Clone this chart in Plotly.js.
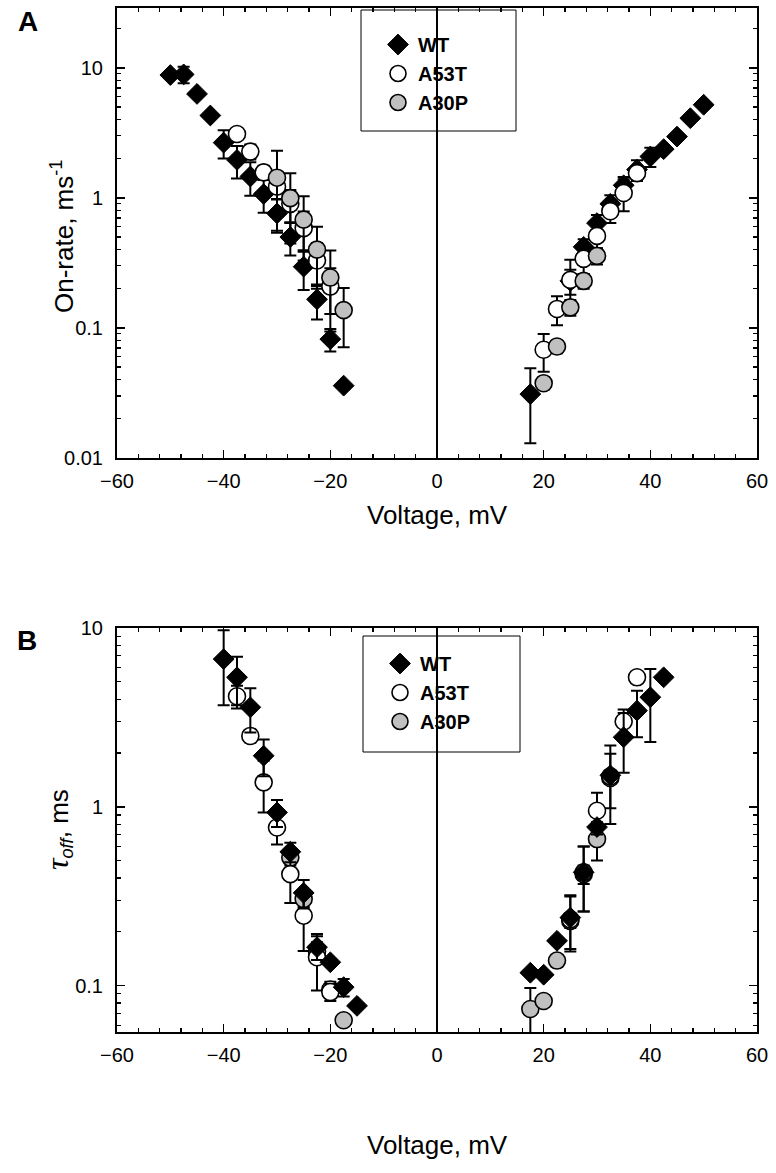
<!DOCTYPE html>
<html>
<head>
<meta charset="utf-8">
<script src="https://cdn.plot.ly/plotly-3.0.1.min.js"></script>
<style>html,body{margin:0;padding:0;background:#fff;}#chart{width:776px;height:1173px;}</style>
</head>
<body>
<div id="chart"></div>
<script>
// ---------- Panel A : On-rate (ms^-1) vs voltage (mV) ----------
const wtA_V   = [-50,-47.5,-45,-42.5,-40,-37.5,-35,-32.5,-30,-27.5,-25,-22.5,-20,-17.5, 17.5,25,27.5,30,32.5,35,37.5,40,42.5,45,47.5,50];
const wtA_Y   = [8.8,8.9,6.3,4.3,2.66,1.96,1.46,1.07,0.76,0.50,0.296,0.166,0.082,0.036, 0.031,0.23,0.42,0.64,0.90,1.25,1.65,2.08,2.37,2.96,4.1,5.2];
const wtA_E   = [0,1.3,0,0,0.65,0.55,0.42,0.30,0.22,0.14,0.10,0.05,0.016,0, 0.018,0.05,0.06,0.10,0.15,0.20,0.30,0.35,0,0,0,0];
const a53tA_V = [-37.5,-35,-32.5,-30,-27.5,-25,-22.5,-20, 20,22.5,25,27.5,30,32.5,35,37.5];
const a53tA_Y = [3.1,2.27,1.57,1.22,0.90,0.585,0.33,0.208, 0.068,0.14,0.234,0.34,0.51,0.79,1.09,1.55];
const a53tA_E = [0.3,0.3,0.2,0.25,0.25,0.2,0.12,0.08, 0.022,0.035,0.1,0.08,0.1,0.15,0.3,0.2];
const a30pA_V = [-30,-27.5,-25,-22.5,-20,-17.5, 20,22.5,25,27.5,30];
const a30pA_Y = [1.43,0.995,0.68,0.40,0.244,0.137, 0.0376,0.072,0.144,0.23,0.358];
const a30pA_E = [0.87,0.55,0.35,0.2,0.15,0.066, 0.004,0.008,0.02,0.03,0.05];

// ---------- Panel B : tau_off (ms) vs voltage (mV) ----------
const wtB_V   = [-40,-37.5,-35,-32.5,-30,-27.5,-25,-22.5,-20,-17.5,-15, 17.5,20,22.5,25,27.5,30,32.5,35,37.5,40,42.5];
const wtB_Y   = [6.7,5.3,3.6,1.93,0.93,0.56,0.33,0.164,0.135,0.098,0.077, 0.118,0.115,0.178,0.24,0.43,0.77,1.5,2.45,3.45,4.1,5.3];
const wtB_E   = [3.0,1.6,1.0,0.45,0.16,0.07,0.06,0.025,0,0.011,0, 0,0,0,0.08,0.17,0,0.7,0.9,1.0,1.8,0];
const a53tB_V = [-37.5,-35,-32.5,-30,-27.5,-25,-22.5,-20, 25,27.5,30,32.5,35,37.5];
const a53tB_Y = [4.15,2.49,1.37,0.766,0.42,0.246,0.144,0.092, 0.235,0.43,0.95,1.48,3.0,5.3];
const a53tB_E = [0.6,0.2,0.44,0.15,0.13,0.09,0.05,0.01, 0.08,0.17,0.25,0.5,0.5,0];
const a30pB_V = [-27.5,-25,-22.5,-20,-17.5, 17.5,20,22.5,25,27.5,30,32.5];
const a30pB_Y = [0.52,0.305,0.155,0.095,0.064, 0.074,0.082,0.138,0.23,0.42,0.66,1.45];
const a30pB_E = [0.05,0.03,0.02,0.01,0, 0.023,0,0.01,0.02,0.05,0.16,0.1];

const seriesNames = ['WT','A53T','A30P'];
const xTickVals = [-60,-40,-20,0,20,40,60];
const yTickValsA = [0.01,0.1,1,10];
const yTickTextA = ['0.01','0.1','1','10'];
const yTickValsB = [0.1,1,10];
const yTickTextB = ['0.1','1','10'];

const FONT = 'Liberation Sans, Arial, sans-serif';

function minorLog(lo, hi){
  const v=[];
  for(let e=lo;e<=hi;e++){for(let d=2;d<=9;d++){v.push(d*Math.pow(10,e));}}
  return v;
}

const styles = {
  'WT':   {symbol:'diamond', size:16, color:'#000000', line:{color:'#000000', width:1}},
  'A53T': {symbol:'circle', size:17, color:'#ffffff', line:{color:'#000000', width:1.6}},
  'A30P': {symbol:'circle', size:17, color:'#c0c0c0', line:{color:'#000000', width:1.6}}
};
const rank = {'WT':1,'A53T':2,'A30P':3};

function tr(name, V, Y, E, xa, ya, leg){
  return {
    type:'scatter', mode:'markers', name:name, x:V, y:Y,
    xaxis:xa, yaxis:ya, legend:leg, legendrank:rank[name],
    marker:styles[name],
    error_y:{type:'data', array:E, visible:true, color:'#000', thickness:2, width:6},
    cliponaxis:false
  };
}

const data = [
  tr('WT', wtA_V, wtA_Y, wtA_E, 'x', 'y', 'legend'),
  tr('A53T', a53tA_V, a53tA_Y, a53tA_E, 'x', 'y', 'legend'),
  tr('A30P', a30pA_V, a30pA_Y, a30pA_E, 'x', 'y', 'legend'),
  tr('A30P', a30pB_V, a30pB_Y, a30pB_E, 'x2', 'y2', 'legend2'),
  tr('A53T', a53tB_V, a53tB_Y, a53tB_E, 'x2', 'y2', 'legend2'),
  tr('WT', wtB_V, wtB_Y, wtB_E, 'x2', 'y2', 'legend2')
];

const W=776, H=1173;
const xDom=[117/W, 757/W];
const yDomA=[1-458/H, 1-8/H];
const yDomB=[1-1032/H, 1-628/H];

function xax(anchor, dom){
  return {domain:dom, anchor:anchor, range:[-60,60], tickmode:'array', tickvals:xTickVals,
    ticks:'inside', ticklen:8, tickwidth:1.5, tickcolor:'#000', mirror:'ticks',
    showline:true, linecolor:'#000', linewidth:2, showgrid:false, zeroline:false,
    ticklabelstandoff:4,
    tickfont:{family:FONT, size:20, color:'#000'}, automargin:false,
    minor:{dtick:4, tick0:0, ticks:'inside', ticklen:4, tickwidth:1.2, tickcolor:'#000', showgrid:false}};
}
function yax(anchor, dom, range, tv, tt, lo, hi){
  return {domain:dom, anchor:anchor, type:'log', range:range, tickmode:'array', tickvals:tv, ticktext:tt,
    ticks:'inside', ticklen:8, tickwidth:1.5, tickcolor:'#000', mirror:'ticks',
    showline:true, linecolor:'#000', linewidth:2, showgrid:false, zeroline:false,
    ticklabelstandoff:8,
    tickfont:{family:FONT, size:20, color:'#000'}, automargin:false,
    minor:{tickmode:'array', tickvals:minorLog(lo,hi), ticks:'inside', ticklen:4, tickwidth:1.2, tickcolor:'#000', showgrid:false}};
}

const legFont = {family:FONT, size:20, weight:700, color:'#000'};

const layout = {
  width:W, height:H, margin:{l:0,r:0,t:0,b:0},
  paper_bgcolor:'#fff', plot_bgcolor:'#fff',
  font:{family:FONT, color:'#000'},
  showlegend:true,
  xaxis: xax('y', xDom),
  yaxis: yax('x', yDomA, [-2, 1.46], yTickValsA, yTickTextA, -2, 1),
  xaxis2: xax('y2', xDom),
  yaxis2: yax('x2', yDomB, [Math.log10(0.055), 1], yTickValsB, yTickTextB, -2, 0),
  legend:{x:378/W, y:1-25/H, xanchor:'left', yanchor:'top', bgcolor:'rgba(0,0,0,0)', borderwidth:0,
    font:legFont, traceorder:'normal'},
  legend2:{x:380/W, y:1-644/H, xanchor:'left', yanchor:'top', bgcolor:'rgba(0,0,0,0)', borderwidth:0,
    font:legFont, traceorder:'normal', tracegroupgap:0},
  shapes:[
    {type:'line', xref:'x', yref:'y domain', x0:0, x1:0, y0:0, y1:1, line:{color:'#000', width:2}},
    {type:'line', xref:'x2', yref:'y2 domain', x0:0, x1:0, y0:0, y1:1, line:{color:'#000', width:2}},
    {type:'rect', xref:'paper', yref:'paper', x0:361/W, x1:516/W, y0:1-131/H, y1:1-10/H, line:{color:'#000', width:1}, fillcolor:'#fff', layer:'below'},
    {type:'rect', xref:'paper', yref:'paper', x0:363/W, x1:520/W, y0:1-752/H, y1:1-636/H, line:{color:'#000', width:1}, fillcolor:'#fff', layer:'below'}
  ],
  annotations:[
    {xref:'paper', yref:'paper', x:28/W, y:1-22/H, text:'<b>A</b>', showarrow:false, font:{family:FONT, size:28, color:'#000'}, xanchor:'center', yanchor:'middle'},
    {xref:'paper', yref:'paper', x:27/W, y:1-640/H, text:'<b>B</b>', showarrow:false, font:{family:FONT, size:28, color:'#000'}, xanchor:'center', yanchor:'middle'},
    {xref:'paper', yref:'paper', x:437/W, y:1-515/H, text:'Voltage, mV', showarrow:false, font:{family:FONT, size:26, color:'#000'}, xanchor:'center', yanchor:'middle'},
    {xref:'paper', yref:'paper', x:437/W, y:1-1145/H, text:'Voltage, mV', showarrow:false, font:{family:FONT, size:26, color:'#000'}, xanchor:'center', yanchor:'middle'},
    {xref:'paper', yref:'paper', x:62/W, y:1-236/H, text:'On-rate, ms<sup>-1</sup>', textangle:-90, showarrow:false, font:{family:FONT, size:26, color:'#000'}, xanchor:'center', yanchor:'middle'},
    {xref:'paper', yref:'paper', x:58/W, y:1-830/H, text:'<i><span style="font-family:Liberation Serif, serif;font-size:32px">τ</span><sub>off</sub></i>, ms', textangle:-90, showarrow:false, font:{family:FONT, size:26, color:'#000'}, xanchor:'center', yanchor:'middle'}
  ]
};

Plotly.newPlot('chart', data, layout, {displayModeBar:false, staticPlot:true});
</script>
</body>
</html>
